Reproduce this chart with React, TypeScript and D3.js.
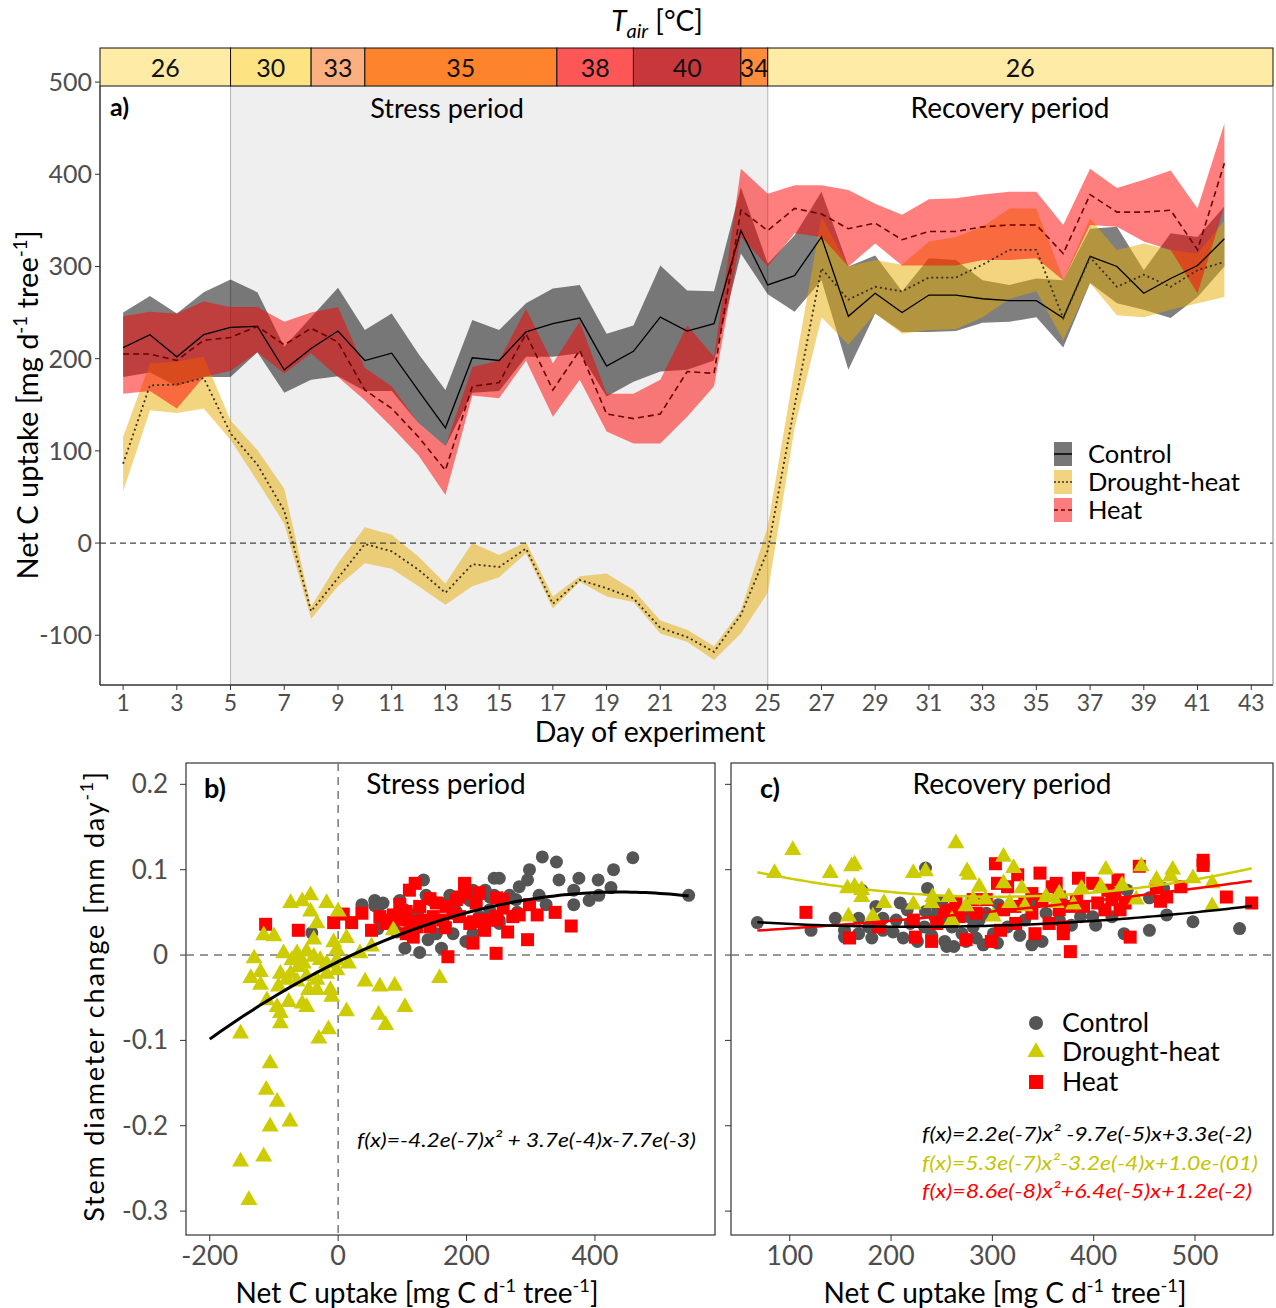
import React from "react";
import * as d3 from "d3";

// ---- panel a: net C uptake per day (mean and band) ----
const days = d3.range(1, 43);

const controlMean = [212, 226, 202, 226, 234, 235, 188, 211, 230, 198, 206, 165, 125, 201, 198, 229, 238, 244, 192, 208, 245, 230, 238, 339, 280, 290, 332, 246, 271, 250, 269, 269, 265, 263, 263, 244, 311, 300, 271, 287, 301, 330];
const controlUpper = [250, 268, 249, 272, 286, 272, 213, 245, 277, 231, 249, 205, 166, 242, 231, 260, 276, 280, 227, 236, 301, 274, 273, 386, 303, 334, 381, 300, 312, 273, 309, 307, 285, 280, 287, 285, 341, 343, 296, 336, 332, 365];
const controlLower = [180, 185, 170, 180, 180, 207, 163, 177, 181, 165, 165, 130, 105, 163, 165, 202, 202, 206, 159, 175, 186, 188, 198, 314, 270, 251, 285, 188, 249, 229, 229, 230, 239, 240, 245, 212, 282, 260, 253, 244, 267, 300];

const droughtMean = [86, 171, 172, 179, 119, 85, 35, -74, -38, -1, -9, -29, -54, -23, -26, -6, -66, -40, -49, -60, -92, -102, -118, -78, -8, 149, 298, 264, 278, 273, 288, 288, 302, 318, 318, 244, 310, 278, 291, 278, 296, 305];
const droughtUpper = [115, 195, 197, 202, 133, 101, 59, -69, -22, 17, 9, -15, -44, 0, -13, 1, -58, -36, -33, -51, -84, -94, -112, -73, 18, 190, 354, 300, 307, 302, 327, 332, 343, 363, 363, 286, 352, 318, 325, 318, 314, 350];
const droughtLower = [56, 144, 141, 146, 112, 67, 21, -82, -47, -22, -28, -47, -67, -47, -37, -11, -71, -42, -58, -64, -98, -107, -127, -98, -54, 125, 245, 215, 249, 227, 231, 232, 245, 265, 273, 220, 282, 247, 245, 253, 260, 267];

const heatMean = [205, 205, 198, 220, 223, 235, 215, 233, 218, 166, 146, 115, 79, 170, 174, 227, 166, 209, 140, 135, 140, 186, 184, 361, 339, 363, 357, 341, 347, 329, 338, 338, 343, 345, 345, 314, 378, 359, 359, 361, 318, 412];
const heatUpper = [246, 251, 249, 262, 256, 256, 240, 250, 256, 190, 170, 130, 105, 191, 198, 254, 195, 240, 162, 162, 177, 236, 202, 406, 379, 388, 388, 383, 368, 356, 373, 374, 378, 381, 381, 345, 406, 385, 394, 404, 363, 455];
const heatLower = [162, 165, 146, 180, 187, 207, 184, 206, 180, 155, 126, 95, 52, 160, 157, 198, 137, 177, 121, 108, 108, 137, 170, 332, 300, 336, 332, 300, 325, 301, 301, 301, 307, 307, 309, 285, 345, 343, 327, 318, 271, 365];

// air temperature band
const tempStart = [0.14, 5, 8, 10, 17.15, 20, 24, 25];
const tempEnd = [5, 8, 10, 17.15, 20, 24, 25, 43.81];
const tempValue = [26, 30, 33, 35, 38, 40, 34, 26];
const tempColor = ["#feeba6", "#fee383", "#fdb07f", "#fd832d", "#fd5656", "#c8383b", "#fd8c3d", "#feeba6"];

const yTicksA = [-100, 0, 100, 200, 300, 400, 500];
const dayTicks = d3.range(1, 44, 2);

// ---- panel b: stress period scatter ----
const stressDrought = [
  [-152, -0.092], [-139, -0.287], [-152, -0.242], [-116, -0.236], [-106, -0.201], [-95, -0.172], [-112, -0.158], [-106, -0.127],
  [-75, -0.195], [-30, -0.098], [-15, -0.087], [-131, -0.004], [-121, -0.02], [-136, -0.027], [-121, -0.035], [-116, 0.023],
  [-100, 0.022], [-74, 0.061], [-56, 0.063], [-43, 0.07], [-18, 0.061], [0, 0.051], [-43, 0.051], [-33, 0.037], [-38, 0.018],
  [-7, 0.015], [13, 0.02], [-2, 0.006], [-85, 0.002], [-64, 0.002], [-49, 0.004], [-38, -0.002], [-90, -0.022], [-74, -0.022],
  [-80, -0.029], [-93, -0.037], [-64, -0.031], [-49, -0.025], [-28, -0.006], [-18, -0.01], [-2, -0.018], [-64, -0.006],
  [-95, -0.061], [-111, -0.053], [-90, -0.068], [-77, -0.055], [-56, -0.057], [-49, -0.061], [-90, -0.08], [-33, -0.041],
  [-12, -0.041], [-10, -0.049], [16, -0.01], [34, 0.002], [52, 0.01], [13, -0.066], [42, -0.031], [65, -0.037], [88, -0.036],
  [104, -0.061], [63, -0.07], [74, -0.082], [158, -0.027], [-72, -0.006], [-62, -0.014], [-54, -0.01], [-18, -0.022],
  [-33, -0.029], [-46, -0.041], [-2, -0.006], [86, 0.029],
];
const stressControl = [
  [-41, 0.026], [57, 0.058], [70, 0.061], [62, 0.031], [137, 0.07], [127, 0.055], [112, 0.033], [91, 0.027], [104, 0.008],
  [127, 0.003], [140, 0.018], [153, 0.025], [161, 0.008], [168, 0.061], [184, 0.051], [197, 0.068], [199, 0.016], [210, 0.076],
  [220, 0.045], [225, 0.072], [236, 0.068], [243, 0.09], [241, 0.045], [251, 0.037], [277, 0.065], [179, 0.025], [210, 0.025],
  [318, 0.115], [340, 0.109], [459, 0.114], [405, 0.088], [375, 0.09], [425, 0.079], [344, 0.088], [282, 0.08], [295, 0.088],
  [313, 0.07], [324, 0.059], [367, 0.059], [391, 0.064], [251, 0.09], [229, 0.076], [267, 0.07], [205, 0.064], [236, 0.053],
  [174, 0.07], [181, 0.059], [133, 0.088], [146, 0.064], [124, 0.05], [96, 0.064], [104, 0.053], [65, 0.059], [57, 0.064],
  [37, 0.059], [546, 0.07], [429, 0.1], [298, 0.1], [367, 0.076], [406, 0.07], [251, 0.041], [279, 0.05], [243, 0.07],
];
const stressHeat = [
  [-113, 0.036], [-62, 0.029], [-7, 0.038], [8, 0.048], [21, 0.038], [37, 0.049], [52, 0.029], [65, 0.045], [86, 0.047],
  [106, 0.051], [120, 0.084], [111, 0.076], [127, 0.057], [143, 0.066], [153, 0.061], [168, 0.057], [184, 0.065], [197, 0.084],
  [199, 0.072], [189, 0.045], [205, 0.037], [210, 0.014], [220, 0.041], [246, 0.045], [256, 0.065], [264, 0.027], [171, -0.002],
  [246, 0.002], [117, 0.021], [132, 0.041], [75, 0.037], [96, 0.041], [148, 0.045], [163, 0.041], [179, 0.049], [215, 0.061],
  [236, 0.041], [272, 0.045], [122, 0.033], [106, 0.025], [143, 0.033], [197, 0.082], [220, 0.073], [247, 0.067], [257, 0.055],
  [282, 0.047], [298, 0.059], [310, 0.047], [295, 0.018], [338, 0.05], [363, 0.034], [247, 0.041], [228, 0.029], [211, 0.039],
  [189, 0.068], [167, 0.032], [115, 0.039], [96, 0.059], [81, 0.041],
];
const stressFit = [-4.2e-7, 3.7e-4, -7.7e-3];

// ---- panel c: recovery period scatter ----
const recDrought = [
  [85, 0.096], [103, 0.123], [140, 0.096], [161, 0.104], [164, 0.106], [157, 0.078], [164, 0.08], [171, 0.076], [171, 0.068],
  [158, 0.045], [182, 0.045], [193, 0.061], [222, 0.096], [234, 0.098], [241, 0.068], [264, 0.131], [275, 0.098], [277, 0.094],
  [287, 0.08], [293, 0.065], [311, 0.115], [321, 0.102], [311, 0.084], [329, 0.078], [317, 0.061], [332, 0.057], [353, 0.068],
  [363, 0.061], [380, 0.059], [388, 0.078], [412, 0.1], [407, 0.08], [428, 0.082], [447, 0.104], [478, 0.1], [476, 0.092],
  [498, 0.09], [517, 0.084], [517, 0.057], [257, 0.068], [240, 0.061], [274, 0.057], [301, 0.045], [222, 0.059], [260, 0.041],
  [281, 0.065], [366, 0.072], [442, 0.065], [462, 0.088],
];
const recControl = [
  [68, 0.038], [121, 0.029], [145, 0.043], [154, 0.029], [154, 0.021], [168, 0.043], [168, 0.025], [181, 0.02], [185, 0.057],
  [192, 0.043], [202, 0.027], [209, 0.061], [212, 0.02], [216, 0.053], [226, 0.016], [234, 0.102], [236, 0.078], [234, 0.051],
  [240, 0.023], [246, 0.055], [250, 0.063], [253, 0.016], [255, 0.01], [262, 0.01], [260, 0.033], [270, 0.025], [274, 0.016],
  [281, 0.033], [284, 0.02], [291, 0.012], [294, 0.049], [305, 0.014], [306, 0.059], [327, 0.023], [339, 0.012], [342, 0.063],
  [349, 0.016], [353, 0.049], [368, 0.067], [378, 0.035], [387, 0.045], [399, 0.045], [402, 0.035], [430, 0.025], [433, 0.076],
  [455, 0.029], [455, 0.067], [472, 0.047], [498, 0.039], [544, 0.031], [233, 0.033], [243, 0.045], [267, 0.045], [287, 0.041],
  [315, 0.033], [332, 0.041], [366, 0.041], [205, 0.041], [219, 0.037], [192, 0.029], [178, 0.033], [253, 0.041], [277, 0.045],
  [301, 0.025], [418, 0.045], [469, 0.078], [171, 0.076],
];
const recHeat = [
  [116, 0.05], [159, 0.02], [188, 0.033], [222, 0.041], [224, 0.021], [240, 0.016], [245, 0.037], [253, 0.051], [264, 0.061],
  [267, 0.045], [274, 0.018], [284, 0.049], [294, 0.065], [299, 0.016], [303, 0.107], [305, 0.084], [308, 0.029], [311, 0.053],
  [315, 0.08], [322, 0.057], [325, 0.094], [323, 0.037], [332, 0.061], [339, 0.049], [342, 0.025], [347, 0.096], [349, 0.065],
  [356, 0.037], [359, 0.08], [363, 0.084], [366, 0.053], [370, 0.033], [370, 0.025], [377, 0.057], [377, 0.004], [385, 0.09],
  [390, 0.057], [399, 0.084], [404, 0.061], [411, 0.053], [414, 0.076], [418, 0.065], [424, 0.088], [426, 0.053], [431, 0.061],
  [436, 0.021], [445, 0.104], [462, 0.08], [466, 0.063], [472, 0.068], [486, 0.08], [508, 0.111], [508, 0.105], [531, 0.068],
  [556, 0.061], [339, 0.072], [383, 0.065], [366, 0.068], [421, 0.072], [281, 0.065], [260, 0.053],
];
const recFitControl = [2.2e-7, -9.8e-5, 0.044];
const recFitDrought = [5.2e-7, -3.15e-4, 0.116];
const recFitHeat = [9.0e-8, 6.3e-5, 0.024];

const yTicksB = [-0.3, -0.2, -0.1, 0, 0.1, 0.2];
const xTicksB = [-200, 0, 200, 400];
const xTicksC = [100, 200, 300, 400, 500];

const FONT = "Lato, 'Open Sans', sans-serif";
const GREY = "#4d4d4d";
const C_CTRL = "#555555";
const C_DRY = "#cccc00";
const C_HEAT = "#ff0000";

const quad = (c: number[]) => (x: number) => c[0] * x * x + c[1] * x + c[2];

// parts alternate: normal, superscript, normal, superscript, ...
function supParts(parts: string[], shift: number) {
  return parts.map((p, i) => {
    const isSup = i % 2 === 1;
    const dy = i === 0 ? 0 : isSup ? -shift : shift;
    return (
      <tspan key={i} dy={dy} fontSize={isSup ? "0.65em" : undefined}>{p}</tspan>
    );
  });
}

export default function App() {
  // panel a scales
  const xA = d3.scaleLinear().domain([0.14, 43.81]).range([100, 1273]);
  const yA = d3.scaleLinear().domain([-154, 537]).range([685, 48]);
  const aTop = 86;
  const aBottom = 685;

  const band = (lo: number[], hi: number[]) =>
    d3.area<number>().x((d) => xA(d)).y0((_, i) => yA(lo[i])).y1((_, i) => yA(hi[i]))(days) || "";
  const line = (v: number[]) => d3.line<number>().x((d) => xA(d)).y((_, i) => yA(v[i]))(days) || "";

  // panels b and c
  const yB = d3.scaleLinear().domain([-0.328, 0.225]).range([1235, 763]);
  const xB = d3.scaleLinear().domain([-237, 587]).range([186, 715]);
  const xC = d3.scaleLinear().domain([42, 577]).range([731, 1273]);

  const curve = (xs: d3.ScaleLinear<number, number>, c: number[], x0: number, x1: number) => {
    const f = quad(c);
    const pts = d3.range(x0, x1 + 0.01, (x1 - x0) / 100);
    return d3.line<number>().x((x) => xs(x)).y((x) => yB(f(x)))(pts) || "";
  };

  const tri = d3.symbol().type(d3.symbolTriangle).size(125)() || "";

  const scatter = (xs: d3.ScaleLinear<number, number>, ctrl: number[][], dry: number[][], heat: number[][]) => (
    <g>
      {ctrl.map((d, i) => (
        <circle key={"c" + i} cx={xs(d[0])} cy={yB(d[1])} r={6.5} fill={C_CTRL} />
      ))}
      {heat.map((d, i) => (
        <rect key={"h" + i} x={xs(d[0]) - 6.5} y={yB(d[1]) - 6.5} width={13} height={13} fill={C_HEAT} />
      ))}
      {dry.map((d, i) => (
        <path key={"d" + i} d={tri} transform={`translate(${xs(d[0])},${yB(d[1])})`} fill={C_DRY} />
      ))}
    </g>
  );

  return (
    <svg width={1276} height={1308} style={{ position: "absolute", left: 0, top: 0, background: "#fff" }} fontFamily={FONT}>
      {/* ===== panel a ===== */}
      <text x={657} y={31} textAnchor="middle" fontSize={28}>
        <tspan fontStyle="italic">T</tspan>
        <tspan fontStyle="italic" fontSize={20} dy={7}>air</tspan>
        <tspan dy={-7}> [°C]</tspan>
      </text>

      <rect x={100} y={aTop} width={1173} height={aBottom - aTop} fill="#fff" />
      <rect x={xA(5)} y={aTop} width={xA(25) - xA(5)} height={aBottom - aTop} fill="#efefef" stroke="#b5b5b5" strokeWidth={1} />

      {tempValue.map((t, i) => (
        <g key={i}>
          <rect x={xA(tempStart[i])} y={48} width={xA(tempEnd[i]) - xA(tempStart[i])} height={aTop - 48} fill={tempColor[i]} stroke="#111" strokeWidth={1} />
          <text x={(xA(tempStart[i]) + xA(tempEnd[i])) / 2} y={77} textAnchor="middle" fontSize={25} fill="#111">{t}</text>
        </g>
      ))}

      <text x={447} y={118} textAnchor="middle" fontSize={27}>Stress period</text>
      <text x={1010} y={118} textAnchor="middle" fontSize={28}>Recovery period</text>
      <text x={110} y={116} fontSize={25} fontWeight="bold">a)</text>

      <path d={band(controlLower, controlUpper)} fill="#000" fillOpacity={0.5} />
      <path d={band(droughtLower, droughtUpper)} fill="#e8a900" fillOpacity={0.5} />
      <path d={band(heatLower, heatUpper)} fill="#ff0000" fillOpacity={0.5} />

      <line x1={100} x2={1273} y1={yA(0)} y2={yA(0)} stroke="#444" strokeWidth={1.3} strokeDasharray="6,4" />

      <path d={line(controlMean)} fill="none" stroke="#000" strokeWidth={1.3} />
      <path d={line(droughtMean)} fill="none" stroke="#3b3020" strokeWidth={1.8} strokeDasharray="2,3" />
      <path d={line(heatMean)} fill="none" stroke="#6e0000" strokeWidth={1.6} strokeDasharray="6,4" />

      <line x1={100} x2={100} y1={aTop} y2={aBottom} stroke="#333" strokeWidth={1.5} />
      <line x1={100} x2={1273} y1={aBottom} y2={aBottom} stroke="#333" strokeWidth={1.5} />
      <line x1={1273} x2={1273} y1={aTop} y2={aBottom} stroke="#888" strokeWidth={1} />

      {yTicksA.map((t) => (
        <g key={t}>
          <line x1={95} x2={100} y1={yA(t)} y2={yA(t)} stroke="#333" />
          <text x={92} y={yA(t) + 9} textAnchor="end" fontSize={25} fill={GREY}>{t}</text>
        </g>
      ))}
      {dayTicks.map((t) => (
        <g key={t}>
          <line x1={xA(t)} x2={xA(t)} y1={aBottom} y2={aBottom + 5} stroke="#333" />
          <text x={xA(t)} y={711} textAnchor="middle" fontSize={23} fill={GREY}>{t}</text>
        </g>
      ))}
      <text x={650} y={742} textAnchor="middle" fontSize={28.5}>Day of experiment</text>
      <text transform="translate(38,405) rotate(-90)" textAnchor="middle" fontSize={29}>
        {supParts(["Net C uptake [mg d", "-1", " tree", "-1", "]"], 11)}
      </text>

      {/* legend a */}
      {[
        { label: "Control", fill: "#777", stroke: "#000", dash: "none" },
        { label: "Drought-heat", fill: "#f2d37f", stroke: "#3b3020", dash: "2,2" },
        { label: "Heat", fill: "#fb7d7d", stroke: "#6e0000", dash: "4,3" },
      ].map((l, i) => (
        <g key={l.label} transform={`translate(1054,${442 + i * 28})`}>
          <rect width={18} height={24} fill={l.fill} />
          <line x1={0} x2={18} y1={12} y2={12} stroke={l.stroke} strokeWidth={1.5} strokeDasharray={l.dash} />
          <text x={34} y={21} fontSize={25.5}>{l.label}</text>
        </g>
      ))}

      {/* ===== panel b ===== */}
      <rect x={186} y={763} width={529} height={472} fill="none" stroke="#333" strokeWidth={1.2} />
      <line x1={186} x2={715} y1={yB(0)} y2={yB(0)} stroke="#777" strokeWidth={1.5} strokeDasharray="8,6" />
      <line x1={xB(0)} x2={xB(0)} y1={763} y2={1235} stroke="#777" strokeWidth={1.5} strokeDasharray="8,6" />
      {scatter(xB, stressControl, stressDrought, stressHeat)}
      <path d={curve(xB, stressFit, -200, 546)} fill="none" stroke="#000" strokeWidth={3} />
      <text x={204} y={798} fontSize={27} fontWeight="bold">b)</text>
      <text x={446} y={794} textAnchor="middle" fontSize={28}>Stress period</text>
      <text x={357} y={1147} fontSize={20} fontStyle="italic" textLength={339} lengthAdjust="spacingAndGlyphs">
        f(x)=-4.2e(-7)x² + 3.7e(-4)x-7.7e(-3)
      </text>

      {yTicksB.map((t) => (
        <g key={t}>
          <line x1={180} x2={186} y1={yB(t)} y2={yB(t)} stroke="#333" />
          <line x1={725} x2={731} y1={yB(t)} y2={yB(t)} stroke="#333" />
          <text x={168} y={yB(t) + 9} textAnchor="end" fontSize={26} fill={GREY}>{String(t)}</text>
        </g>
      ))}
      {xTicksB.map((t) => (
        <g key={t}>
          <line x1={xB(t)} x2={xB(t)} y1={1235} y2={1241} stroke="#333" />
          <text x={xB(t)} y={1265} textAnchor="middle" fontSize={27} fill={GREY}>{t}</text>
        </g>
      ))}
      <text x={417} y={1303} textAnchor="middle" fontSize={28}>
        {supParts(["Net C uptake [mg C d", "-1", " tree", "-1", "]"], 11)}
      </text>
      <text transform="translate(104,996) rotate(-90)" textAnchor="middle" fontSize={27} letterSpacing={1.8}>
        {supParts(["Stem diameter change [mm day", "-1", "]"], 11)}
      </text>

      {/* ===== panel c ===== */}
      <rect x={731} y={763} width={542} height={472} fill="none" stroke="#333" strokeWidth={1.2} />
      <line x1={731} x2={1273} y1={yB(0)} y2={yB(0)} stroke="#777" strokeWidth={1.5} strokeDasharray="8,6" />
      {scatter(xC, recControl, recDrought, recHeat)}
      <path d={curve(xC, recFitDrought, 68, 556)} fill="none" stroke="#cccc00" strokeWidth={2.5} />
      <path d={curve(xC, recFitHeat, 68, 556)} fill="none" stroke="#ff0000" strokeWidth={2.5} />
      <path d={curve(xC, recFitControl, 68, 556)} fill="none" stroke="#000" strokeWidth={2.5} />
      <text x={760} y={798} fontSize={27} fontWeight="bold">c)</text>
      <text x={1012} y={794} textAnchor="middle" fontSize={28}>Recovery period</text>

      {xTicksC.map((t) => (
        <g key={t}>
          <line x1={xC(t)} x2={xC(t)} y1={1235} y2={1241} stroke="#333" />
          <text x={xC(t)} y={1265} textAnchor="middle" fontSize={27} fill={GREY}>{t}</text>
        </g>
      ))}
      <text x={1005} y={1303} textAnchor="middle" fontSize={28}>
        {supParts(["Net C uptake [mg C d", "-1", " tree", "-1", "]"], 11)}
      </text>

      {/* legend c */}
      <circle cx={1036} cy={1023} r={7} fill={C_CTRL} />
      <path d={tri} transform="translate(1036,1052)" fill={C_DRY} />
      <rect x={1029} y={1075} width={14} height={14} fill={C_HEAT} />
      <text x={1062} y={1032} fontSize={26.5}>Control</text>
      <text x={1062} y={1061} fontSize={26.5}>Drought-heat</text>
      <text x={1062} y={1091} fontSize={26.5}>Heat</text>

      <text x={922} y={1141} fontSize={20} fontStyle="italic" fill="#000" textLength={330} lengthAdjust="spacingAndGlyphs">f(x)=2.2e(-7)x² -9.7e(-5)x+3.3e(-2)</text>
      <text x={922} y={1170} fontSize={20} fontStyle="italic" fill="#c4c400" textLength={336} lengthAdjust="spacingAndGlyphs">f(x)=5.3e(-7)x²-3.2e(-4)x+1.0e-(01)</text>
      <text x={922} y={1198} fontSize={20} fontStyle="italic" fill="#ff0000" textLength={330} lengthAdjust="spacingAndGlyphs">f(x)=8.6e(-8)x²+6.4e(-5)x+1.2e(-2)</text>
    </svg>
  );
}
